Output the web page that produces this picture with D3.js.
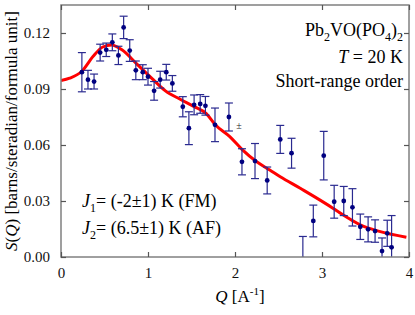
<!DOCTYPE html>
<html>
<head>
<meta charset="utf-8">
<script src="https://cdn.jsdelivr.net/npm/d3@7"></script>
<style>
  body { margin: 0; background: #fff; }
  text { font-family: "Liberation Serif", "Times New Roman", "DejaVu Serif", serif; }
</style>
</head>
<body>
<script>
// data
const qValues = [0.24, 0.31, 0.38, 0.45, 0.52, 0.59, 0.66, 0.72, 0.79, 0.86, 0.94, 1.00, 1.07, 1.14, 1.21, 1.28,
  1.40, 1.47, 1.53, 1.60, 1.66, 1.77, 1.93, 2.08, 2.23, 2.37, 2.52, 2.65, 2.78, 2.90, 3.02, 3.14, 3.25, 3.35,
  3.44, 3.53, 3.61, 3.69, 3.75, 3.80];
const sValues = [0.099, 0.095, 0.094, 0.1095, 0.111, 0.115, 0.108, 0.123, 0.1106, 0.100, 0.099, 0.0966, 0.089, 0.095, 0.099, 0.093,
  0.0805, 0.069, 0.0815, 0.082, 0.081, 0.0708, 0.075, 0.051, 0.0514, 0.041, 0.063, 0.0556, -0.001, 0.0193, 0.0543, 0.0296, 0.030, 0.0266,
  0.0162, 0.0148, 0.0139, 0.0032, 0.0127, 0.0052];
const sErrors = [0.0105, 0.005, 0.004, 0.0045, 0.0036, 0.0045, 0.0049, 0.006, 0.0058, 0.005, 0.004, 0.0045, 0.005, 0.0045, 0.0042, 0.0042,
  0.0054, 0.0088, 0.0053, 0.005, 0.005, 0.009, 0.0075, 0.007, 0.0094, 0.0072, 0.0075, 0.008, 0.012, 0.0085, 0.013, 0.0088, 0.0078, 0.010,
  0.0068, 0.0067, 0.006, 0.007, 0.007, 0.017];

const fitQ = [0, 0.1, 0.24, 0.37, 0.48, 0.58, 0.7, 0.87, 1.06, 1.2, 1.37, 1.52, 1.67, 1.77, 1.94, 2.08, 2.25, 2.4, 2.52, 2.75, 3.13, 3.21, 3.44, 3.67, 3.97];
const fitS = [0.0945, 0.0958, 0.0995, 0.1075, 0.1125, 0.1136, 0.111, 0.1035, 0.095, 0.089, 0.0845, 0.0808, 0.0768, 0.071, 0.0645, 0.0577, 0.051, 0.0466, 0.043, 0.0368, 0.026, 0.0235, 0.0172, 0.0136, 0.0106];

const xTicks = [0, 1, 2, 3, 4];
const yTicks = [0, 0.03, 0.06, 0.09, 0.12];

const width = 415, height = 315;
const margin = { top: 5, right: 6, bottom: 58, left: 61 };
const w = width - margin.left - margin.right;
const h = height - margin.top - margin.bottom;

const svg = d3.select("body").append("svg")
  .attr("width", width)
  .attr("height", height);

const g = svg.append("g")
  .attr("transform", "translate(" + margin.left + "," + margin.top + ")");

const x = d3.scaleLinear().domain([0, 4]).range([0, w]);
const y = d3.scaleLinear().domain([0, 0.135]).range([h, 0]);

g.append("clipPath").attr("id", "clip")
  .append("rect").attr("width", w).attr("height", h);

const plot = g.append("g").attr("clip-path", "url(#clip)");

// fitted curve
const line = d3.line()
  .x((d, i) => x(fitQ[i]))
  .y(d => y(d))
  .curve(d3.curveMonotoneX);

plot.append("path")
  .datum(fitS)
  .attr("fill", "none")
  .attr("stroke", "#ff0000")
  .attr("stroke-width", 3)
  .attr("d", line);

// error bars
const pts = qValues.map((q, i) => ({ q: q, s: sValues[i], e: sErrors[i] }));
const cap = 4;
const bars = plot.selectAll(".err").data(pts).enter().append("g")
  .attr("stroke", "#2a2a90").attr("stroke-width", 1.2);
bars.append("line")
  .attr("x1", d => x(d.q)).attr("x2", d => x(d.q))
  .attr("y1", d => y(d.s - d.e)).attr("y2", d => y(d.s + d.e));
bars.append("line")
  .attr("x1", d => x(d.q) - cap).attr("x2", d => x(d.q) + cap)
  .attr("y1", d => y(d.s + d.e)).attr("y2", d => y(d.s + d.e));
bars.append("line")
  .attr("x1", d => x(d.q) - cap).attr("x2", d => x(d.q) + cap)
  .attr("y1", d => y(d.s - d.e)).attr("y2", d => y(d.s - d.e));

plot.selectAll(".pt").data(pts).enter().append("circle")
  .attr("cx", d => x(d.q))
  .attr("cy", d => y(d.s))
  .attr("r", 2.4)
  .attr("fill", "#000080");

// frame
g.append("rect")
  .attr("width", w).attr("height", h)
  .attr("fill", "none")
  .attr("stroke", "#808080")
  .attr("stroke-width", 1.5);

// ticks inward on all sides
const tickLen = 5;
g.append("g").attr("transform", "translate(0," + h + ")")
  .call(d3.axisBottom(x).tickValues(xTicks).tickSizeInner(-tickLen).tickSizeOuter(0).tickPadding(10).tickFormat(d3.format("d")))
  .call(a => a.select(".domain").remove());
g.append("g")
  .call(d3.axisTop(x).tickValues(xTicks).tickSizeInner(-tickLen).tickSizeOuter(0).tickFormat(""))
  .call(a => a.select(".domain").remove());
g.append("g")
  .call(d3.axisLeft(y).tickValues(yTicks).tickSizeInner(-tickLen).tickSizeOuter(0).tickPadding(11).tickFormat(d3.format(".2f")))
  .call(a => a.select(".domain").remove());
g.append("g").attr("transform", "translate(" + w + ",0)")
  .call(d3.axisRight(y).tickValues(yTicks).tickSizeInner(-tickLen).tickSizeOuter(0).tickFormat(""))
  .call(a => a.select(".domain").remove());

g.selectAll(".tick line").attr("stroke", "#555").attr("stroke-width", 1.2);
g.selectAll(".tick text")
  .style("font-family", "'Liberation Serif', 'Times New Roman', serif")
  .style("font-size", "15px")
  .attr("fill", "#111");

// axis titles
const xLab = svg.append("text")
  .attr("x", margin.left + w / 2 + 5)
  .attr("y", 302)
  .attr("text-anchor", "middle")
  .style("font-size", "17px");
xLab.append("tspan").style("font-style", "italic").text("Q");
xLab.append("tspan").text(" [A");
xLab.append("tspan").attr("dy", -7).style("font-size", "11px").text("-1");
xLab.append("tspan").attr("dy", 7).text("]");

const yLab = svg.append("text")
  .attr("transform", "translate(17," + (margin.top + h / 2) + ") rotate(-90)")
  .attr("text-anchor", "middle")
  .style("font-size", "17px");
yLab.append("tspan").style("font-style", "italic").text("S");
yLab.append("tspan").text("(");
yLab.append("tspan").style("font-style", "italic").text("Q");
yLab.append("tspan").text(") [barns/steradian/formula unit]");

// annotations
const rx = 403;
const t1 = svg.append("text").attr("x", rx).attr("y", 36).attr("text-anchor", "end").style("font-size", "18px");
t1.append("tspan").text("Pb");
t1.append("tspan").attr("dy", 5).style("font-size", "12px").text("2");
t1.append("tspan").attr("dy", -5).text("VO(PO");
t1.append("tspan").attr("dy", 5).style("font-size", "12px").text("4");
t1.append("tspan").attr("dy", -5).text(")");
t1.append("tspan").attr("dy", 5).style("font-size", "12px").text("2");

const t2 = svg.append("text").attr("x", rx).attr("y", 63).attr("text-anchor", "end").style("font-size", "18px");
t2.append("tspan").style("font-style", "italic").text("T");
t2.append("tspan").text(" = 20 K");

svg.append("text").attr("x", rx).attr("y", 87).attr("text-anchor", "end")
  .style("font-size", "18px").text("Short-range order");

function jLabel(yy, sub, rest) {
  const t = svg.append("text").attr("x", 82).attr("y", yy).style("font-size", "18px");
  t.append("tspan").style("font-style", "italic").text("J");
  t.append("tspan").attr("dy", 5).style("font-size", "12px").text(sub);
  t.append("tspan").attr("dy", -5).text(rest);
}
jLabel(207, "1", "= (-2±1) K (FM)");
jLabel(234, "2", "= (6.5±1) K (AF)");

// stray symbol in the original
svg.append("text").attr("x", 239).attr("y", 129).attr("text-anchor", "middle")
  .style("font-size", "10px").attr("fill", "#222").text("±");
</script>
</body>
</html>
